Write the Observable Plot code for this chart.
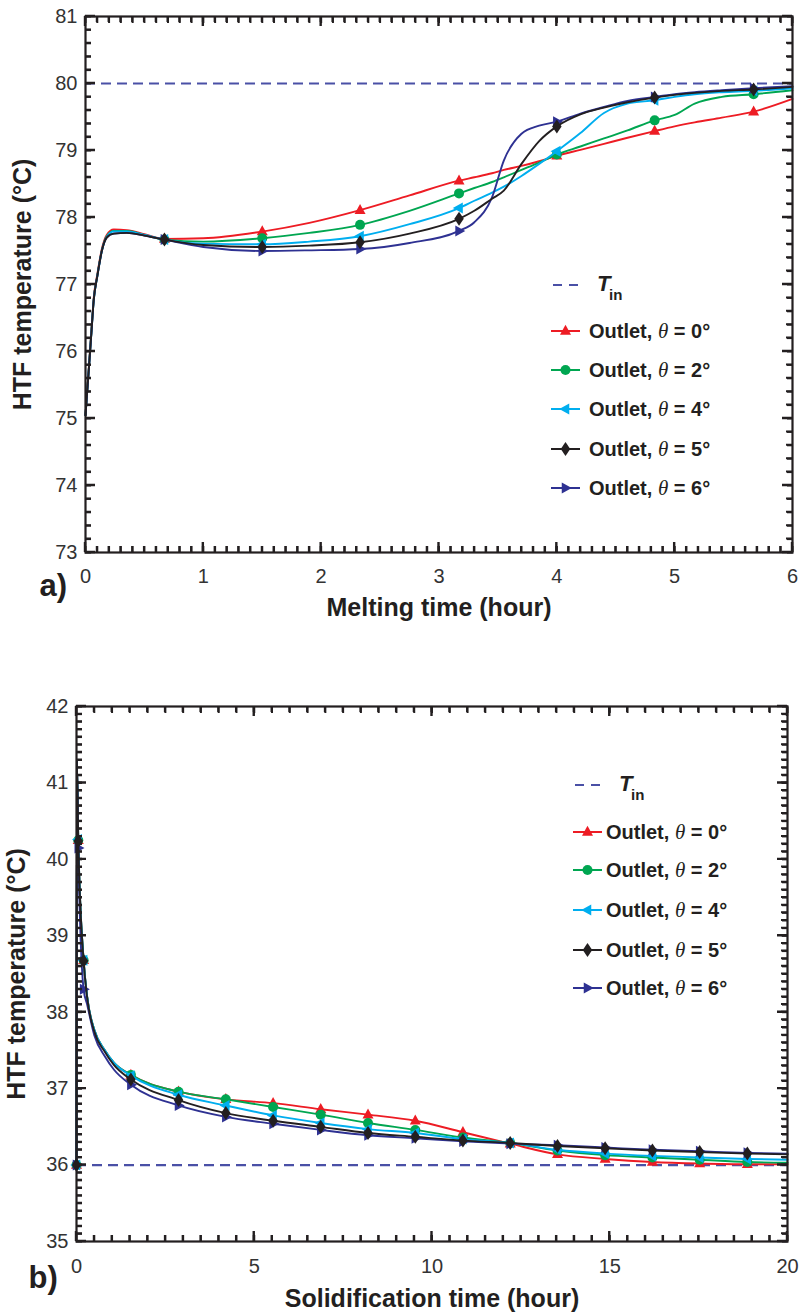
<!DOCTYPE html>
<html>
<head>
<meta charset="utf-8">
<script src="https://cdn.jsdelivr.net/npm/d3@7"></script>
<script src="https://cdn.jsdelivr.net/npm/@observablehq/plot@0.6"></script>
<style>
  html, body { margin: 0; padding: 0; background: #ffffff; }
  #chart { width: 801px; height: 1312px; position: relative; overflow: hidden; }
</style>
</head>
<body>
<div id="chart"></div>
<script>
// ---------------- DATA ----------------
const seriesLabels = ["Outlet, θ = 0°", "Outlet, θ = 2°", "Outlet, θ = 4°", "Outlet, θ = 5°", "Outlet, θ = 6°"];
const inletLabel = "T_in";

// (a) Melting
const meltTime = [0, 0.03, 0.05, 0.07, 0.1, 0.14, 0.18, 0.24, 0.35, 0.5, 0.67, 1.0, 1.5, 1.9, 2.33, 2.75, 3.17, 3.3, 3.45, 3.55, 3.7, 3.85, 4.0, 4.2, 4.4, 4.6, 4.83, 5.0, 5.17, 5.4, 5.67, 6.0];
const meltTheta0 = [75.05, 75.8, 76.3, 76.8, 77.15, 77.54, 77.74, 77.82, 77.81, 77.75, 77.68, 77.69, 77.79, 77.92, 78.11, 78.33, 78.55, 78.6, 78.66, 78.71, 78.77, 78.84, 78.92, 79.01, 79.1, 79.19, 79.29, 79.36, 79.42, 79.49, 79.58, 79.77];
const meltTheta2 = [75.05, 75.79, 76.29, 76.78, 77.13, 77.52, 77.72, 77.8, 77.8, 77.74, 77.67, 77.64, 77.69, 77.77, 77.89, 78.1, 78.36, 78.44, 78.53, 78.6, 78.71, 78.82, 78.94, 79.06, 79.18, 79.3, 79.45, 79.53, 79.7, 79.8, 79.84, 79.9];
const meltTheta4 = [75.05, 75.78, 76.28, 76.77, 77.12, 77.51, 77.71, 77.79, 77.79, 77.74, 77.67, 77.61, 77.6, 77.64, 77.72, 77.9, 78.14, 78.25, 78.37, 78.46, 78.62, 78.8, 78.99, 79.26, 79.56, 79.7, 79.75, 79.8, 79.84, 79.87, 79.89, 79.93];
const meltTheta5 = [75.05, 75.78, 76.28, 76.77, 77.12, 77.51, 77.7, 77.76, 77.77, 77.73, 77.67, 77.59, 77.56, 77.58, 77.63, 77.76, 77.98, 78.1, 78.28, 78.4, 78.8, 79.14, 79.36, 79.54, 79.64, 79.72, 79.79, 79.83, 79.86, 79.89, 79.91, 79.95];
const meltTheta6 = [75.05, 75.78, 76.28, 76.77, 77.12, 77.51, 77.7, 77.76, 77.77, 77.73, 77.67, 77.56, 77.5, 77.51, 77.53, 77.62, 77.8, 77.93, 78.3, 78.85, 79.25, 79.37, 79.43, 79.55, 79.65, 79.74, 79.8, 79.84, 79.87, 79.9, 79.93, 79.96];
const meltMarkerTimes = [0.67, 1.5, 2.33, 3.17, 4.0, 4.83, 5.67];
const meltInlet = 80;
const meltXTicks = [0, 1, 2, 3, 4, 5, 6];
const meltYTicks = [73, 74, 75, 76, 77, 78, 79, 80, 81];

// (b) Solidification
const solidTime = [0, 0.01, 0.05, 0.2, 0.3, 0.5, 0.8, 1.05, 1.53, 2.87, 4.2, 5.53, 6.87, 8.2, 9.53, 10.87, 12.2, 13.53, 14.87, 16.2, 17.53, 18.87, 20];
const solidTheta0 = [36.0, 41.3, 40.25, 38.68, 38.2, 37.77, 37.5, 37.34, 37.18, 36.96, 36.86, 36.81, 36.73, 36.66, 36.58, 36.43, 36.28, 36.14, 36.08, 36.04, 36.02, 36.01, 36.01];
const solidTheta2 = [36.0, 41.3, 40.25, 38.68, 38.2, 37.77, 37.5, 37.34, 37.18, 36.96, 36.86, 36.76, 36.66, 36.55, 36.46, 36.36, 36.29, 36.19, 36.13, 36.1, 36.07, 36.04, 36.03];
const solidTheta4 = [36.0, 41.3, 40.26, 38.68, 38.2, 37.77, 37.5, 37.34, 37.17, 36.92, 36.78, 36.65, 36.55, 36.47, 36.42, 36.34, 36.29, 36.2, 36.15, 36.12, 36.1, 36.08, 36.07];
const solidTheta5 = [36.0, 41.3, 40.24, 38.67, 38.19, 37.75, 37.48, 37.31, 37.12, 36.85, 36.68, 36.58, 36.5, 36.42, 36.37, 36.32, 36.29, 36.25, 36.22, 36.19, 36.17, 36.15, 36.14];
const solidTheta6 = [36.0, 41.3, 40.15, 38.3, 38.1, 37.7, 37.42, 37.25, 37.05, 36.78, 36.63, 36.54, 36.46, 36.39, 36.35, 36.31, 36.28, 36.26, 36.23, 36.2, 36.18, 36.16, 36.15];
const solidMarkerTimes = [0, 0.05, 0.2, 1.53, 2.87, 4.2, 5.53, 6.87, 8.2, 9.53, 10.87, 12.2, 13.53, 14.87, 16.2, 17.53, 18.87];
const solidInlet = 36;
const solidXTicks = [0, 5, 10, 15, 20];
const solidYTicks = [35, 36, 37, 38, 39, 40, 41, 42];

// ---------------- STYLE ----------------
const FONT = "'Liberation Sans', Arial, Helvetica, sans-serif";
const colors = ["#ed1c24", "#00a651", "#00aeef", "#231f20", "#2e3192"];
const dashColor = "#4a50a6";
const INK = "#231f20";

function rOf(s) { return Math.sqrt(s / Math.PI); }
const symTriUp = { draw(c, s) { const r = rOf(s); c.moveTo(0, -1.25 * r); c.lineTo(1.1 * r, 0.75 * r); c.lineTo(-1.1 * r, 0.75 * r); c.closePath(); } };
const symCircle = { draw(c, s) { const r = rOf(s); c.moveTo(r, 0); c.arc(0, 0, r, 0, 2 * Math.PI); c.closePath(); } };
const symTriLeft = { draw(c, s) { const r = rOf(s); c.moveTo(-1.25 * r, 0); c.lineTo(0.75 * r, -1.1 * r); c.lineTo(0.75 * r, 1.1 * r); c.closePath(); } };
const symDiamond = { draw(c, s) { const r = rOf(s); c.moveTo(0, -1.4 * r); c.lineTo(0.95 * r, 0); c.lineTo(0, 1.4 * r); c.lineTo(-0.95 * r, 0); c.closePath(); } };
const symTriRight = { draw(c, s) { const r = rOf(s); c.moveTo(1.25 * r, 0); c.lineTo(-0.75 * r, -1.1 * r); c.lineTo(-0.75 * r, 1.1 * r); c.closePath(); } };
const symbols = [symTriUp, symCircle, symTriLeft, symDiamond, symTriRight];
const drawOrder = [0, 1, 2, 4, 3];

// Legend drawn inside the plot area
function legendMark(cfg) {
  return () => {
    const g = d3.create("svg:g").attr("font-family", FONT).attr("fill", INK).attr("text-anchor", "start");
    g.append("line").attr("x1", cfg.lineX0 + 2).attr("x2", cfg.lineX1 - 2).attr("y1", cfg.tinY).attr("y2", cfg.tinY)
      .attr("stroke", dashColor).attr("stroke-width", 2.2).attr("stroke-dasharray", "9,7");
    const [tMain, tSub] = inletLabel.split("_");
    g.append("text").attr("x", cfg.tX).attr("y", cfg.tinBase).attr("font-size", 22).attr("font-weight", "bold")
      .attr("font-style", "italic").text(tMain);
    g.append("text").attr("x", cfg.tX + 12).attr("y", cfg.tinBase + 9).attr("font-size", 15).attr("font-weight", "bold").text(tSub);
    seriesLabels.forEach((lab, i) => {
      const y = cfg.rowY[i];
      g.append("line").attr("x1", cfg.lineX0).attr("x2", cfg.lineX1).attr("y1", y).attr("y2", y)
        .attr("stroke", colors[i]).attr("stroke-width", 2);
      g.append("path").attr("d", d3.symbol(symbols[i], 25 * Math.PI)())
        .attr("transform", `translate(${(cfg.lineX0 + cfg.lineX1) / 2},${y})`).attr("fill", colors[i]);
      const parts = lab.split("θ");
      const t = g.append("text").attr("x", cfg.textX).attr("y", y).attr("dy", "0.36em")
        .attr("font-size", 20).attr("font-weight", "bold");
      t.append("tspan").text(parts[0]);
      t.append("tspan").attr("font-style", "italic").attr("font-weight", "normal")
        .attr("font-family", "'Liberation Serif', 'Times New Roman', serif").attr("font-size", 21).text("θ");
      t.append("tspan").text(parts[1]);
    });
    return g.node();
  };
}

// Inward frame ticks, added after rendering using the plot's own x and y scales
function addFrameTicks(svg, p) {
  const sx = svg.scale("x"), sy = svg.scale("y");
  const X = v => sx.apply(v), Y = v => sy.apply(v);
  const L = Math.min(...sx.range), R = Math.max(...sx.range);
  const T = Math.min(...sy.range), B = Math.max(...sy.range);
  const seg = (xs, ys, len) => {
    let d = "";
    for (const v of xs) { const px = X(v); d += `M${px},${B}L${px},${B - len}M${px},${T}L${px},${T + len}`; }
    for (const v of ys) { const py = Y(v); d += `M${L},${py}L${L + len},${py}M${R},${py}L${R - len},${py}`; }
    return d;
  };
  const g = d3.select(svg).append("g").attr("fill", "none").attr("stroke", INK);
  g.append("path").attr("d", seg(p.xMinor, p.yMinor, 6)).attr("stroke-width", 2);
  g.append("path").attr("d", seg(p.xTicks, p.yTicks, 10)).attr("stroke-width", 2.4);
}

function buildPanel(p) {
  const seriesVals = p.series;
  const marks = [];
  marks.push(Plot.ruleY([p.inlet], {stroke: dashColor, strokeWidth: 2.2, strokeDasharray: "10,6"}));
  for (const i of drawOrder) {
    const rows = p.time.map((t, k) => ({t, v: seriesVals[i][k]}));
    marks.push(Plot.line(rows, {x: "t", y: "v", stroke: colors[i], strokeWidth: 1.9, curve: "monotone-x"}));
    marks.push(Plot.dot(rows.filter(d => p.markerTimes.includes(d.t)), {x: "t", y: "v", fill: colors[i], r: 5, symbol: symbols[i]}));
  }
  marks.push(Plot.frame({stroke: INK, strokeWidth: 2.2}));
  marks.push(Plot.axisX({anchor: "bottom", ticks: p.xMinor, tickSize: -6, text: null, label: null, stroke: INK, strokeWidth: 2}));
  marks.push(Plot.axisX({anchor: "top", ticks: p.xMinor, tickSize: -6, text: null, label: null, stroke: INK, strokeWidth: 2}));
  marks.push(Plot.axisY({anchor: "left", ticks: p.yMinor, tickSize: -6, text: null, label: null, stroke: INK, strokeWidth: 2}));
  marks.push(Plot.axisY({anchor: "right", ticks: p.yMinor, tickSize: -6, text: null, label: null, stroke: INK, strokeWidth: 2}));
  marks.push(Plot.axisX({ticks: p.xTicks, tickSize: 0, tickPadding: p.xPad, fontSize: 20, label: null, tickFormat: d => String(d), fill: "#333"}));
  marks.push(Plot.axisY({ticks: p.yTicks, tickSize: 0, tickPadding: 8, fontSize: 20, label: null, tickFormat: d => String(d), fill: "#333"}));
  marks.push(Plot.text([p.xTitle], {text: d => d, frameAnchor: "bottom", textAnchor: "middle", lineAnchor: "middle", dy: p.xTitleDy, fontSize: 25, fontWeight: "bold", fill: INK}));
  marks.push(Plot.text([p.yTitle], {text: d => d, frameAnchor: "left", textAnchor: "middle", lineAnchor: "middle", rotate: -90, dx: p.yTitleDx, fontSize: 25, fontWeight: "bold", fill: INK}));
  marks.push(Plot.text([p.tag], {text: d => d, frameAnchor: "bottom-left", textAnchor: "start", lineAnchor: "middle", dx: p.tagDx, dy: p.tagDy, fontSize: 31, fontWeight: "bold", fill: INK}));
  marks.push(legendMark(p.legend));
  const svg = Plot.plot({
    width: 801,
    height: p.height,
    marginTop: p.margin[0], marginRight: p.margin[1], marginBottom: p.margin[2], marginLeft: p.margin[3],
    style: {fontFamily: FONT, background: "#ffffff", display: "block"},
    x: {domain: p.xDomain, nice: false},
    y: {domain: p.yDomain, nice: false},
    marks
  });
  addFrameTicks(svg, p);
  return svg;
}

const panelA = buildPanel({
  height: 640,
  margin: [16, 9, 88, 85],
  time: meltTime,
  series: [meltTheta0, meltTheta2, meltTheta4, meltTheta5, meltTheta6],
  markerTimes: meltMarkerTimes,
  inlet: meltInlet,
  xDomain: [0, 6], yDomain: [73, 81],
  xTicks: meltXTicks, yTicks: meltYTicks,
  xMinor: d3.range(0, 6.0001, 0.1), yMinor: d3.range(73, 81.0001, 0.2),
  xPad: 16,
  xTitle: "Melting time (hour)", xTitleDy: 55,
  yTitle: "HTF temperature (°C)", yTitleDx: -63,
  tag: "a)", tagDx: -46, tagDy: 34,
  legend: {lineX0: 551, lineX1: 580, tinY: 285, tinBase: 291, tX: 597, rowY: [331, 370, 409, 449, 488], textX: 589}
});

const panelB = buildPanel({
  height: 672,
  margin: [66, 14, 71, 76],
  time: solidTime,
  series: [solidTheta0, solidTheta2, solidTheta4, solidTheta5, solidTheta6],
  markerTimes: solidMarkerTimes,
  inlet: solidInlet,
  xDomain: [0, 20], yDomain: [35, 42],
  xTicks: solidXTicks, yTicks: solidYTicks,
  xMinor: d3.range(0, 20.0001, 0.5), yMinor: d3.range(35, 42.0001, 0.1),
  xPad: 17,
  xTitle: "Solidification time (hour)", xTitleDy: 57,
  yTitle: "HTF temperature (°C)", yTitleDx: -60,
  tag: "b)", tagDx: -48, tagDy: 37,
  legend: {lineX0: 573, lineX1: 602, tinY: 145, tinBase: 151, tX: 619, rowY: [192, 230, 270, 310, 348], textX: 606}
});

const chart = document.getElementById("chart");
chart.appendChild(panelA);
chart.appendChild(panelB);
</script>
</body>
</html>
